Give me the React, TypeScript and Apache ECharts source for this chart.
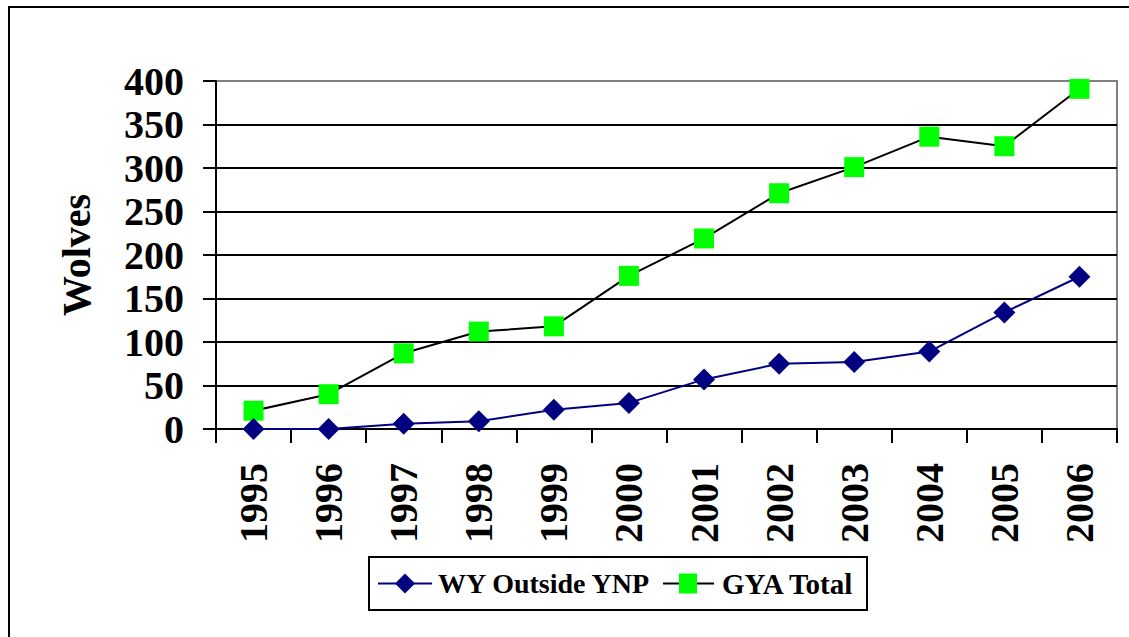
import React, { useEffect, useRef } from "react";
import * as echarts from "echarts";

const years = ["1995", "1996", "1997", "1998", "1999", "2000", "2001", "2002", "2003", "2004", "2005", "2006"];
const wyOutsideYnp = [0, 0, 6, 9, 22, 30, 57, 75, 77, 89, 134, 175];
const gyaTotal = [21, 40, 87, 112, 118, 176, 219, 271, 301, 336, 325, 391];
const seriesNames = ["WY Outside YNP", "GYA Total"];

const FONT = '"Liberation Serif", "Times New Roman", serif';
const NAVY = "#000080";
const GREEN = "#00FF00";

export default function App() {
  const ref = useRef<HTMLDivElement>(null);
  useEffect(() => {
    if (!ref.current) return;
    const chart = echarts.init(ref.current, null, { renderer: "svg" });
    const ly = 583.5;
    chart.setOption({
      animation: false,
      backgroundColor: "#ffffff",
      textStyle: { fontFamily: FONT },
      graphic: [
        {
          type: "rect",
          shape: { x: 9, y: 7, width: 1300, height: 800 },
          style: { fill: "none", stroke: "#000", lineWidth: 2 },
          silent: true,
        },
        {
          type: "group",
          silent: true,
          children: [
            {
              type: "rect",
              shape: { x: 369, y: 557, width: 498, height: 53 },
              style: { fill: "#fff", stroke: "#000", lineWidth: 2 },
            },
            {
              type: "line",
              shape: { x1: 378, y1: ly, x2: 432, y2: ly },
              style: { stroke: NAVY, lineWidth: 2 },
            },
            {
              type: "polygon",
              shape: { points: [[405, ly - 10], [415, ly], [405, ly + 10], [395, ly]] },
              style: { fill: NAVY },
            },
            {
              type: "text",
              x: 438,
              y: ly,
              style: {
                text: seriesNames[0],
                font: `bold 28px ${FONT}`,
                fill: "#000",
                verticalAlign: "middle",
                align: "left",
              },
            },
            {
              type: "line",
              shape: { x1: 663, y1: ly, x2: 714, y2: ly },
              style: { stroke: "#000", lineWidth: 2 },
            },
            {
              type: "rect",
              shape: { x: 679, y: ly - 10, width: 18, height: 20 },
              style: { fill: GREEN },
            },
            {
              type: "text",
              x: 722,
              y: ly,
              style: {
                text: seriesNames[1],
                font: `bold 29px ${FONT}`,
                fill: "#000",
                verticalAlign: "middle",
                align: "left",
              },
            },
          ],
        },
      ],
      grid: {
        left: 216,
        top: 81,
        right: 12,
        bottom: 208,
        show: true,
        borderColor: "#808080",
        borderWidth: 2,
      },
      xAxis: {
        type: "category",
        data: years,
        boundaryGap: true,
        axisLine: { lineStyle: { color: "#000", width: 2 } },
        axisTick: { show: true, length: 14, lineStyle: { color: "#000", width: 2 } },
        axisLabel: {
          rotate: 90,
          margin: 34,
          fontFamily: FONT,
          fontSize: 40,
          fontWeight: "bold",
          color: "#000",
        },
        splitLine: { show: false },
      },
      yAxis: {
        type: "value",
        min: 0,
        max: 400,
        interval: 50,
        name: "Wolves",
        nameLocation: "middle",
        nameRotate: 90,
        nameGap: 120,
        nameTextStyle: { fontFamily: FONT, fontSize: 40, fontWeight: "bold", color: "#000" },
        axisLine: { show: true, lineStyle: { color: "#000", width: 2 } },
        axisTick: { show: true, length: 13, lineStyle: { color: "#000", width: 2 } },
        axisLabel: {
          margin: 32,
          fontFamily: FONT,
          fontSize: 40,
          fontWeight: "bold",
          color: "#000",
        },
        splitLine: { show: true, showMaxLine: false, lineStyle: { color: "#000", width: 2 } },
      },
      series: [
        {
          name: seriesNames[0],
          type: "line",
          data: wyOutsideYnp,
          symbol: "diamond",
          symbolSize: [22, 22],
          itemStyle: { color: NAVY },
          lineStyle: { color: NAVY, width: 2 },
          z: 3,
        },
        {
          name: seriesNames[1],
          type: "line",
          data: gyaTotal,
          symbol: "rect",
          symbolSize: 20,
          itemStyle: { color: GREEN },
          lineStyle: { color: "#000", width: 2 },
          z: 2,
        },
      ],
    });
    return () => chart.dispose();
  }, []);
  return (
    <div
      ref={ref}
      style={{ position: "absolute", left: 0, top: 0, width: 1129, height: 637 }}
    />
  );
}
